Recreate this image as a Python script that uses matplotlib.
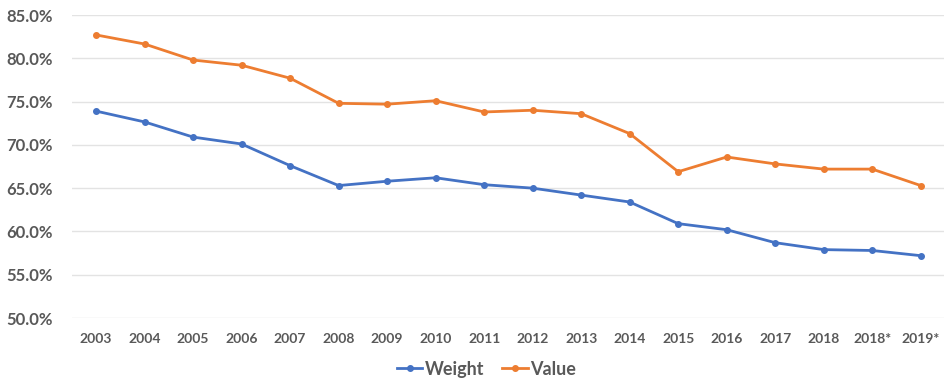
import matplotlib
matplotlib.use('Agg')
import matplotlib.pyplot as plt
from matplotlib.ticker import FuncFormatter

# Datos
years = ['2003', '2004', '2005', '2006', '2007', '2008', '2009', '2010', '2011',
         '2012', '2013', '2014', '2015', '2016', '2017', '2018', '2018*', '2019*']
weight = [73.9, 72.65, 70.9, 70.1, 67.6, 65.3, 65.8, 66.2, 65.4,
          65.0, 64.2, 63.4, 60.9, 60.2, 58.7, 57.9, 57.8, 57.2]
value = [82.7, 81.65, 79.8, 79.2, 77.7, 74.8, 74.7, 75.1, 73.8,
         74.0, 73.6, 71.3, 66.9, 68.6, 67.8, 67.2, 67.2, 65.3]

plt.rcParams['font.family'] = ['Lato', 'DejaVu Sans']

fig = plt.figure(figsize=(9.45, 3.85), dpi=100)
ax = fig.add_axes([0.076, 0.174, 0.924, 0.787])

x = range(len(years))
ax.plot(x, weight, color='#4472c4', lw=2, marker='o', ms=4, label='Weight')
ax.plot(x, value, color='#ed7d31', lw=2, marker='o', ms=4, label='Value')

ax.set_ylim(50, 85)
ax.set_yticks([50, 55, 60, 65, 70, 75, 80, 85])
ax.yaxis.set_major_formatter(FuncFormatter(lambda v, p: f'{v:.1f}%'))
ax.set_xlim(-0.5, len(years) - 0.5)
ax.set_xticks(list(x))
ax.set_xticklabels(years)

ax.grid(axis='y', color='#e3e3e3', lw=1)
ax.set_axisbelow(True)
for s in ax.spines.values():
    s.set_visible(False)
ax.tick_params(length=0)
ax.tick_params(axis='y', labelsize=12, labelcolor='#595959', pad=14)
ax.tick_params(axis='x', labelsize=10, labelcolor='#595959', pad=11)
for t in ax.get_yticklabels() + ax.get_xticklabels():
    t.set_fontweight('bold')

leg = ax.legend(loc='lower center', bbox_to_anchor=(0.475, -0.25), ncol=2,
                frameon=False, fontsize=13, handlelength=1.4, columnspacing=1.0,
                handletextpad=0.15)
for t in leg.get_texts():
    t.set_color('#595959')
    t.set_fontweight('bold')

plt.savefig('out.png', dpi=100)
